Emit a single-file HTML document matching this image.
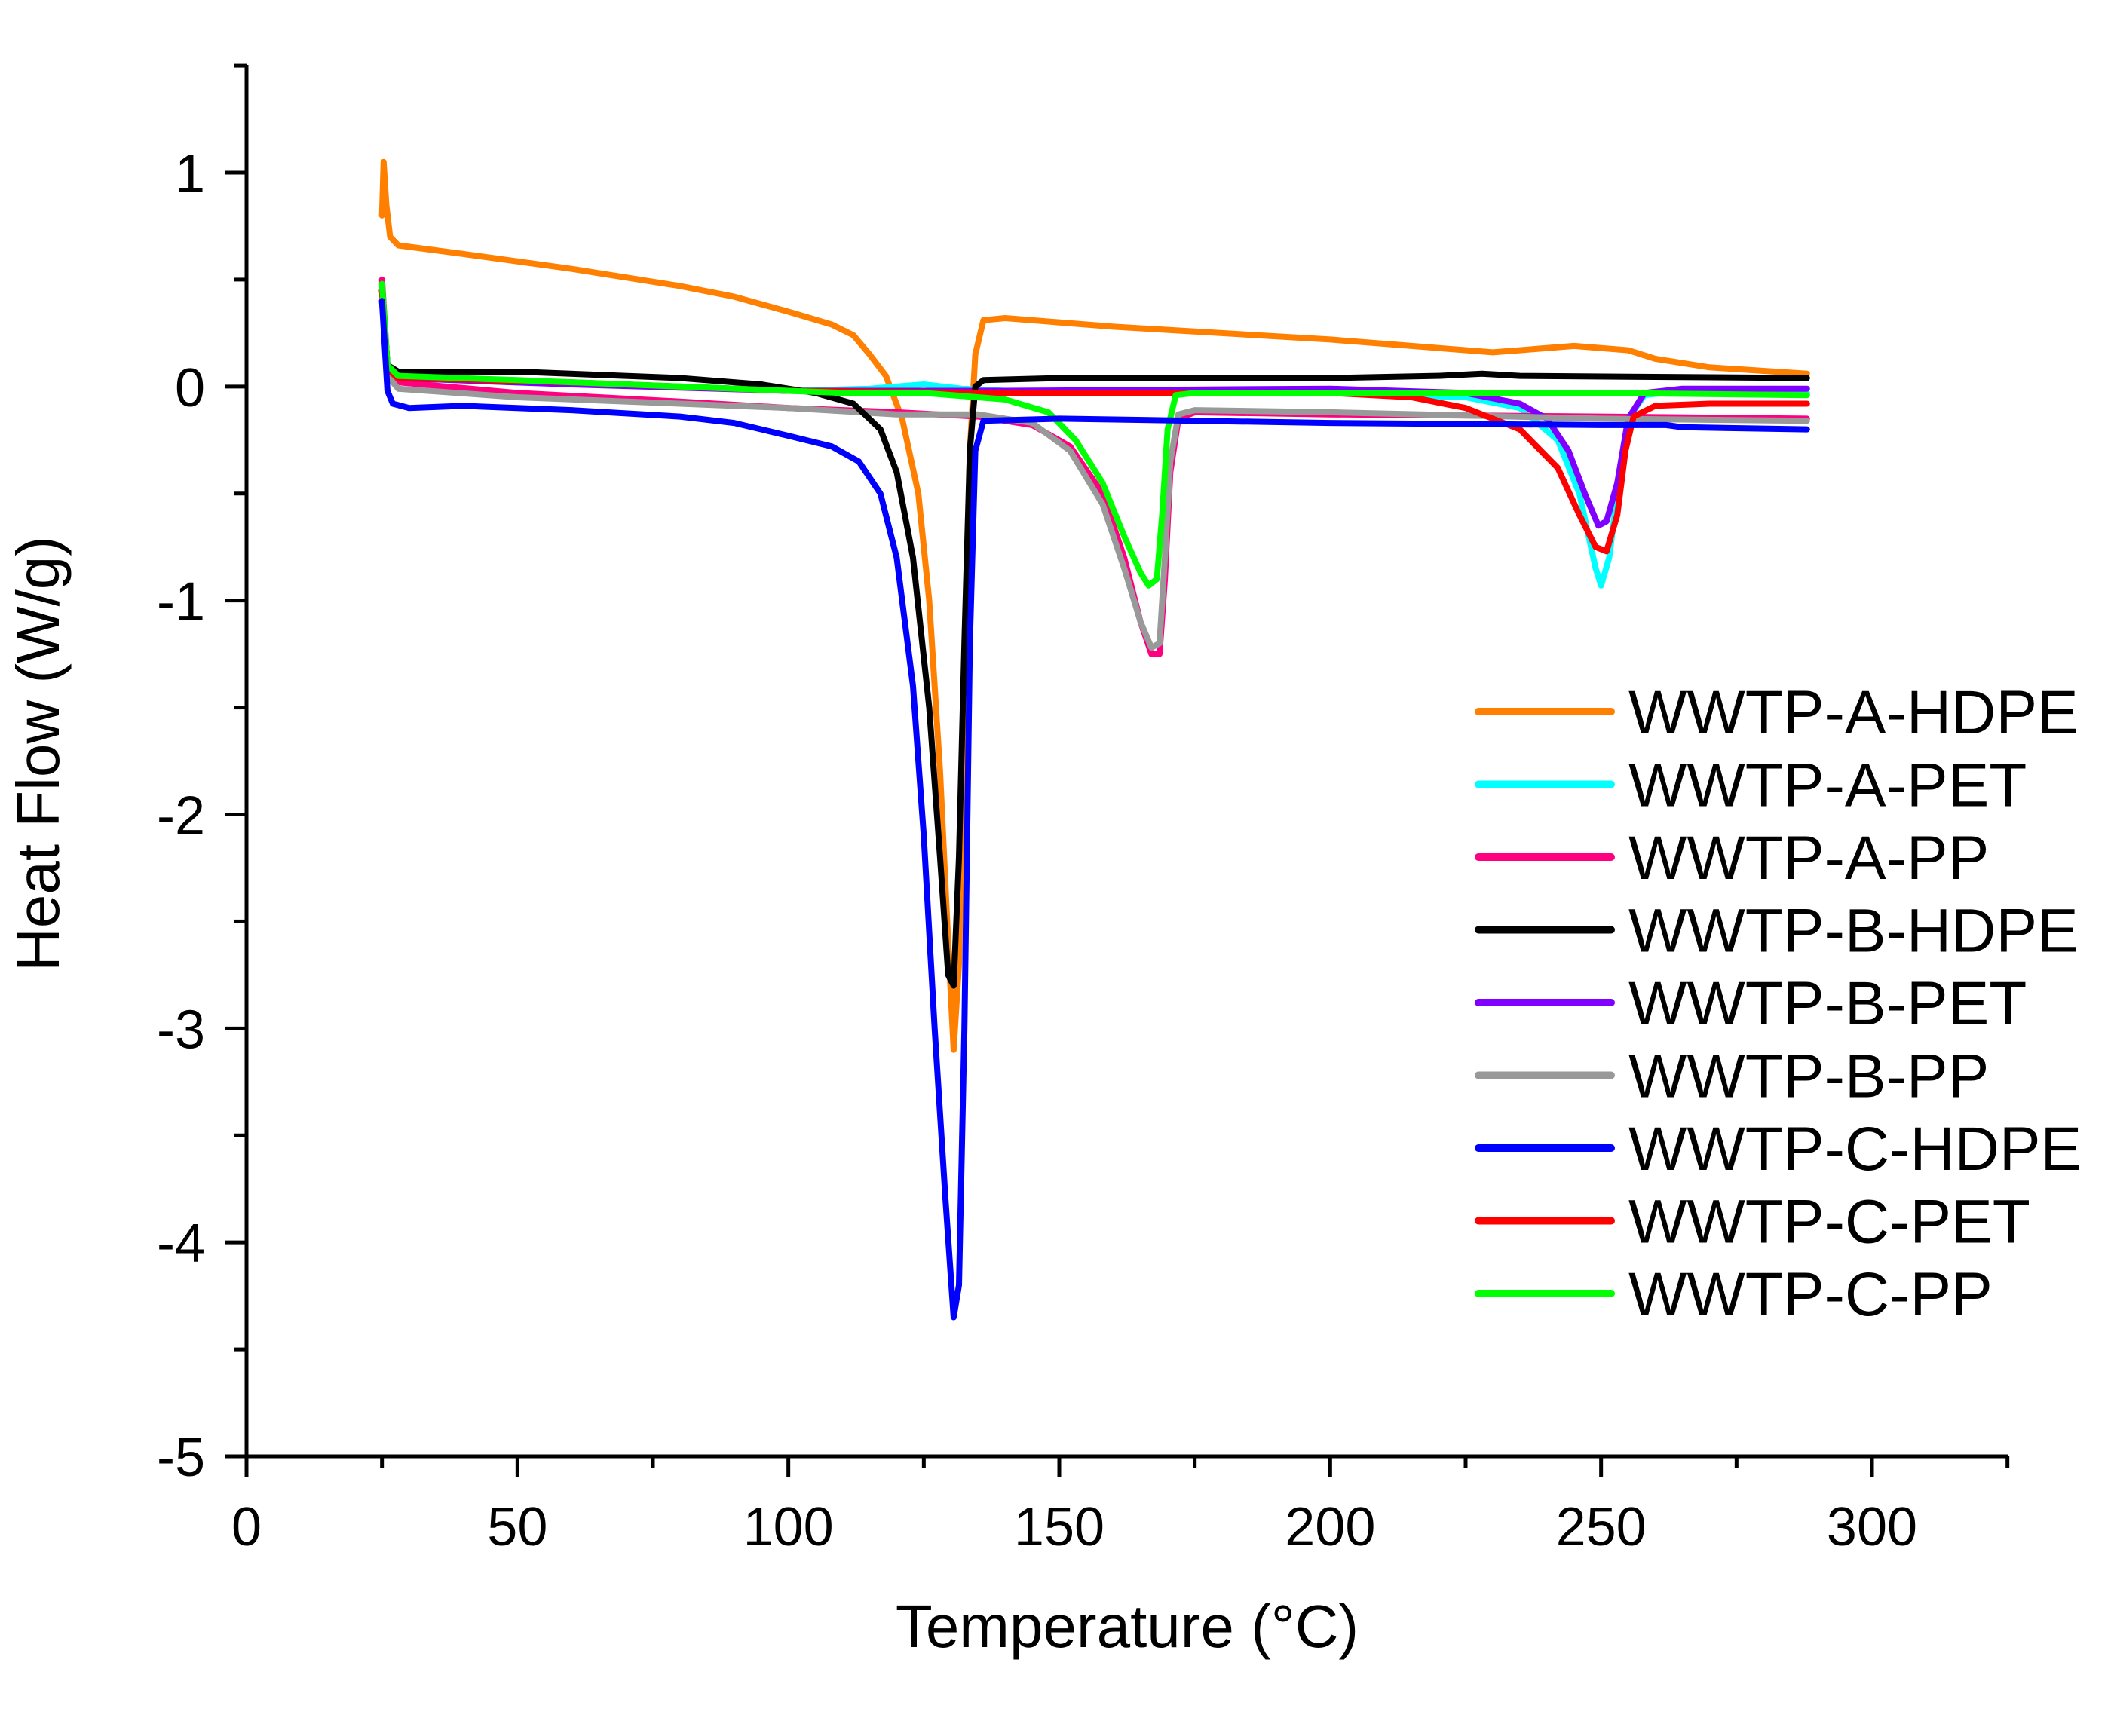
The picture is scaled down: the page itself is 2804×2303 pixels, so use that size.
<!DOCTYPE html>
<html><head><meta charset="utf-8"><style>
html,body{margin:0;padding:0;background:#fff}
svg{display:block;font-family:"Liberation Sans",Arial,sans-serif}
</style></head><body>
<svg id="chart" width="2804" height="2303" viewBox="0 0 2804 2303" xmlns="http://www.w3.org/2000/svg">
<g id="axes"></g>
<g id="series"></g>
<g id="legend"></g>
<text x="1495" y="2185" font-size="80" text-anchor="middle">Temperature (°C)</text>
<text transform="translate(78,1000) rotate(-90)" font-size="80" text-anchor="middle">Heat Flow (W/g)</text>
</svg>
<script>
const xTicks=[0,50,100,150,200,250,300];
const yTicks=[1,0,-1,-2,-3,-4,-5];
const seriesNames=["WWTP-A-HDPE","WWTP-A-PET","WWTP-A-PP","WWTP-B-HDPE","WWTP-B-PET","WWTP-B-PP","WWTP-C-HDPE","WWTP-C-PET","WWTP-C-PP"];
const seriesColors=["#ff8000","#00ffff","#ff0080","#000000","#8000ff","#999999","#0000ff","#ff0000","#00ff00"];
const aHdpeT=[25,25.3,25.8,26.5,28,40,60,80,90,100,108,112,115,118,121,124,126,128,129.5,130.5,131.5,132.5,133.5,134.5,136,140,160,180,200,220,230,235,245,255,260,270,288];
const aHdpeV=[0.8,1.05,0.85,0.7,0.66,0.62,0.55,0.47,0.42,0.35,0.29,0.24,0.15,0.05,-0.15,-0.5,-1.0,-1.8,-2.6,-3.1,-2.7,-1.5,-0.3,0.15,0.31,0.32,0.28,0.25,0.22,0.18,0.16,0.17,0.19,0.17,0.13,0.09,0.06];
const aPetT=[25,26,28,50,80,100,115,125,132,140,175,200,225,235,242,246,249,250,251.5,253,255,258,265,288];
const aPetV=[0.4,0.1,0.04,0.02,0,-0.02,-0.01,0.01,-0.01,-0.02,-0.03,-0.03,-0.05,-0.1,-0.25,-0.5,-0.85,-0.93,-0.8,-0.5,-0.15,-0.04,-0.02,-0.03];
const aPpT=[25,26,28,50,80,100,120,135,145,152,158,162,165,167,168.5,169.5,170.5,172,175,200,250,288];
const aPpV=[0.5,0.1,0.02,-0.03,-0.07,-0.1,-0.12,-0.14,-0.18,-0.28,-0.5,-0.8,-1.1,-1.25,-1.25,-0.9,-0.4,-0.15,-0.12,-0.13,-0.14,-0.15];
const bHdpeT=[25,26,28,50,80,95,105,112,117,120,123,126,128,129.5,130.5,131.5,132.5,133.5,134.5,136,150,200,220,228,235,288];
const bHdpeV=[0.45,0.1,0.07,0.07,0.04,0.01,-0.03,-0.08,-0.2,-0.4,-0.8,-1.5,-2.2,-2.75,-2.8,-2.2,-1.2,-0.3,0,0.03,0.04,0.04,0.05,0.06,0.05,0.04];
const bPetT=[25,26,28,60,100,140,200,225,235,240,244,247,249.5,251,253,255,258,265,288];
const bPetV=[0.45,0.1,0.04,0.01,-0.02,-0.02,-0.01,-0.03,-0.08,-0.15,-0.3,-0.5,-0.65,-0.63,-0.45,-0.15,-0.03,-0.01,-0.01];
const bPpT=[25,26,28,50,80,100,120,135,145,152,158,162,165,167,168.5,169.5,170.5,172,175,200,250,288];
const bPpV=[0.4,0.05,-0.01,-0.05,-0.08,-0.1,-0.13,-0.13,-0.17,-0.3,-0.55,-0.85,-1.1,-1.22,-1.2,-0.8,-0.35,-0.13,-0.11,-0.12,-0.15,-0.16];
const cHdpeT=[25,26,27,30,40,60,80,90,100,108,113,117,120,123,125,127,129,130.5,131.5,132.5,133.5,134.5,136,150,200,250,262,265,288];
const cHdpeV=[0.4,-0.02,-0.08,-0.1,-0.09,-0.11,-0.14,-0.17,-0.23,-0.28,-0.35,-0.5,-0.8,-1.4,-2.1,-3.0,-3.8,-4.35,-4.2,-3.0,-1.2,-0.3,-0.16,-0.15,-0.17,-0.18,-0.18,-0.19,-0.2];
const cPetT=[25,26,28,60,100,140,200,215,225,235,242,246,249,251,253,254.5,256,260,270,288];
const cPetV=[0.45,0.08,0.04,0.02,-0.02,-0.03,-0.03,-0.05,-0.1,-0.2,-0.38,-0.6,-0.75,-0.77,-0.6,-0.3,-0.14,-0.09,-0.08,-0.08];
const cPpT=[25,26,28,50,80,100,110,125,140,148,153,158,162,165,166.5,168,169,170,171.5,175,200,250,288];
const cPpV=[0.48,0.1,0.05,0.03,0,-0.02,-0.03,-0.03,-0.06,-0.12,-0.25,-0.45,-0.7,-0.87,-0.93,-0.9,-0.6,-0.2,-0.04,-0.03,-0.03,-0.03,-0.04];
const seriesT=[aHdpeT,aPetT,aPpT,bHdpeT,bPetT,bPpT,cHdpeT,cPetT,cPpT];
const seriesV=[aHdpeV,aPetV,aPpV,bHdpeV,bPetV,bPpV,cHdpeV,cPetV,cPpV];
const drawOrder=[0,1,2,4,5,3,7,8,6];

const NS="http://www.w3.org/2000/svg";
const X0=327,X1=2483,Y1=229,Y5=1932;
function sx(t){return X0+(t-0)*(X1-X0)/300;}
function sy(v){return Y1+(1-v)*(Y5-Y1)/6;}
function mk(tag,attrs,parent){const e=document.createElementNS(NS,tag);for(const k in attrs)e.setAttribute(k,attrs[k]);parent.appendChild(e);return e;}
const axes=document.getElementById('axes');
const yAxis=mk('line',{x1:X0,y1:86,x2:X0,y2:sy(-5),stroke:'#000','stroke-width':5},axes);


const xAxis=mk('line',{x1:X0,y1:sy(-5),x2:2663,y2:sy(-5),stroke:'#000','stroke-width':5},axes);


for(let t=0;t<=325;t+=25){
  const major=t%50===0;
  const tk=mk('line',{x1:sx(t),y1:sy(-5),x2:sx(t),y2:sy(-5)+(major?28:16),stroke:'#000','stroke-width':5},axes);
  
  
}
xTicks.forEach(t=>{
  const tx=mk('text',{x:sx(t),y:2050,'font-size':72,'text-anchor':'middle'},axes);
  tx.textContent=t;
  
  
});
for(let v=1.5;v>=-5;v-=0.5){
  const major=Math.abs(v-Math.round(v))<1e-6;
  const tk=mk('line',{x1:X0,y1:sy(v),x2:X0-(major?28:16),y2:sy(v),stroke:'#000','stroke-width':5},axes);
  
  
}
yTicks.forEach(v=>{
  const tx=mk('text',{x:272,y:sy(v)+26,'font-size':72,'text-anchor':'end'},axes);
  tx.textContent=v;
  
  
});
const sg=document.getElementById('series');
drawOrder.forEach(i=>{
  const pts=seriesT[i].map((t,j)=>sx(t).toFixed(1)+','+sy(seriesV[i][j]).toFixed(1)).join(' ');
  const pl=mk('polyline',{points:pts,fill:'none',stroke:seriesColors[i],'stroke-width':8,'stroke-linejoin':'round','stroke-linecap':'round'},sg);
  
  
});
const lg=document.getElementById('legend');
seriesNames.forEach((n,i)=>{
  const y=944+i*96.5;
  const ln=mk('line',{x1:1961,y1:y,x2:2137,y2:y,stroke:seriesColors[i],'stroke-width':10,'stroke-linecap':'round'},lg);
  
  
  const tx=mk('text',{x:2160,y:y+29,'font-size':82},lg);
  tx.textContent=n;
  
  
});
</script>
</body></html>
